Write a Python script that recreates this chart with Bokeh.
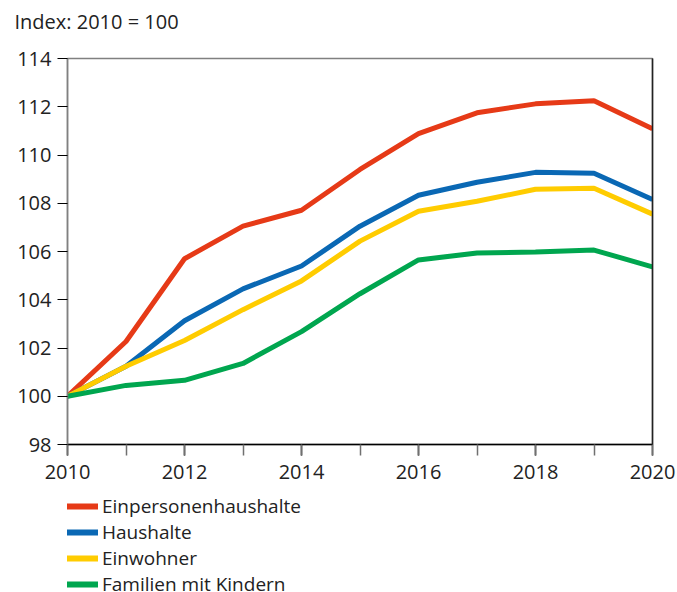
from bokeh.plotting import figure
from bokeh.models import Range1d, Legend, LegendItem, FixedTicker, LinearAxis, Title
from bokeh.layouts import column
from bokeh.embed import file_html
from bokeh.resources import INLINE

years = [2010, 2011, 2012, 2013, 2014, 2015, 2016, 2017, 2018, 2019, 2020]
einpersonen = [100, 102.27, 105.7, 107.05, 107.71, 109.4, 110.89, 111.75, 112.12, 112.25, 111.09]
haushalte = [100, 101.24, 103.13, 104.45, 105.4, 107.05, 108.33, 108.87, 109.28, 109.24, 108.16]
einwohner = [100, 101.24, 102.31, 103.59, 104.78, 106.43, 107.67, 108.08, 108.58, 108.62, 107.55]
familien = [100, 100.45, 100.66, 101.36, 102.68, 104.25, 105.65, 105.94, 105.98, 106.06, 105.36]
series_names = ["Einpersonenhaushalte", "Haushalte", "Einwohner", "Familien mit Kindern"]
x_ticks = [2010, 2012, 2014, 2016, 2018, 2020]
y_ticks = [98, 100, 102, 104, 106, 108, 110, 112, 114]

colors = ["#E63A17", "#0A68B4", "#FFCC00", "#00A64F"]
FONT = "Open Sans"
TXT = "#222222"
FS = "20px"

p = figure(width=677, height=491, output_backend="svg", toolbar_location=None,
           x_range=Range1d(2010, 2020), y_range=Range1d(98, 114),
           min_border_left=67, min_border_right=25, min_border_top=57, min_border_bottom=47)
p.add_layout(Title(text=" ", text_font_size="7px"), "above")
p.add_layout(Title(text="Index: 2010 = 100", text_font=FONT, text_font_size=FS,
                   text_font_style="normal", text_color=TXT, offset=-53), "above")
p.outline_line_color = "#808080"
p.outline_line_width = 1.5
p.grid.visible = False
p.background_fill_color = "white"
p.border_fill_color = "white"

# x axis
xa = p.xaxis[0]
xa.ticker = FixedTicker(ticks=x_ticks, minor_ticks=years)
xa.axis_line_color = "black"
xa.axis_line_width = 1.5
xa.major_tick_line_color = "black"
xa.major_tick_line_width = 1.5
xa.major_tick_out = 11
xa.major_tick_in = 0
xa.minor_tick_line_color = "#707070"
xa.minor_tick_line_width = 1.5
xa.minor_tick_out = 11
xa.minor_tick_in = 0
xa.major_label_text_font = FONT
xa.major_label_text_font_size = FS
xa.major_label_text_color = TXT
xa.major_label_standoff = 9

# y axis
ya = p.yaxis[0]
ya.ticker = FixedTicker(ticks=y_ticks)
ya.axis_line_color = "#808080"
ya.axis_line_width = 1.5
ya.major_tick_line_color = "black"
ya.major_tick_line_width = 1.2
ya.major_tick_out = 10
ya.major_tick_in = 0
ya.minor_tick_line_color = None
ya.major_label_text_font = FONT
ya.major_label_text_font_size = FS
ya.major_label_text_color = TXT
ya.major_label_standoff = 6

# right border
ra = LinearAxis(ticker=FixedTicker(ticks=[]), axis_line_color="#222222", axis_line_width=1.5,
                major_label_text_font_size="0px", major_tick_line_color=None, minor_tick_line_color=None)
p.add_layout(ra, "right")

data = [einpersonen, haushalte, einwohner, familien]
for ys, c in zip(data, colors):
    p.line(years, ys, line_color=c, line_width=5)

# legend figure (lines drawn outside its visible range; only the legend shows)
pl = figure(width=677, height=101, output_backend="svg", toolbar_location=None,
            x_range=Range1d(0, 1), y_range=Range1d(0, 1),
            x_axis_type=None, y_axis_type=None,
            min_border_left=0, min_border_right=0, min_border_top=0, min_border_bottom=0)
pl.outline_line_color = None
pl.grid.visible = False
lrs = []
for ys, c in zip(data, colors):
    lrs.append(pl.line(years, ys, line_color=c, line_width=6))
items = [LegendItem(label=n, renderers=[r]) for n, r in zip(series_names, lrs)]
legend = Legend(items=items, location=(-1, -5), orientation="vertical",
                label_text_font=FONT, label_text_font_size="19px", label_text_color=TXT,
                glyph_width=32, glyph_height=20, spacing=0, padding=0, margin=0,
                label_standoff=4, border_line_color=None, background_fill_alpha=0,
                label_height=20)
pl.add_layout(legend, "center")

layout = column(p, pl, spacing=0)
open("out.html", "w").write(file_html(layout, INLINE))
